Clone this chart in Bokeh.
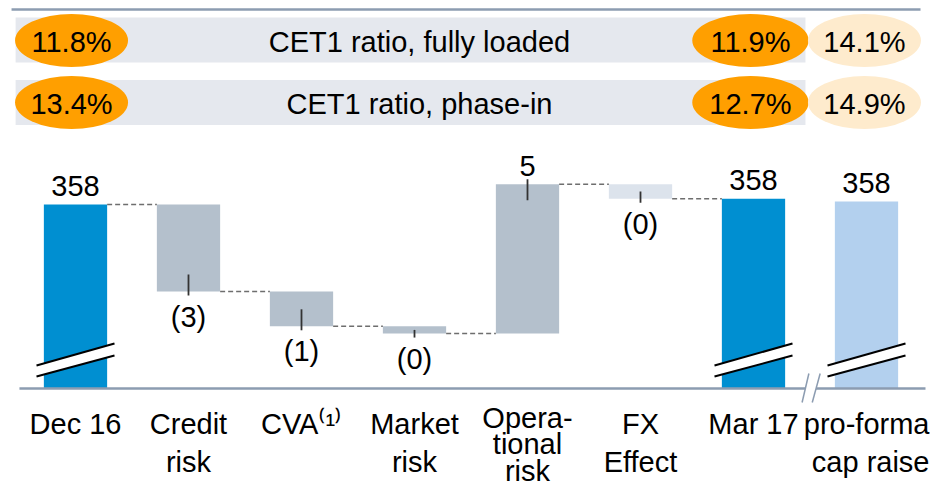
from bokeh.plotting import figure
from bokeh.models import Range1d, ColumnDataSource
from bokeh.core.properties import value
from bokeh.embed import file_html
from bokeh.resources import INLINE

# ---------------- data ----------------
categories = ["Dec 16", "Credit\nrisk", "CVA\u207d\u00b9\u207e", "Market\nrisk",
              "Opera-\ntional\nrisk", "FX\nEffect", "Mar 17", "pro-forma\ncap raise"]
start_value = 358.0                       # Dec 16
deltas = [-3.0, -1.2, -0.25, 5.15, -0.5]  # Credit, CVA, Market, Operational, FX
end_value = 358.2                         # Mar 17
proforma_value = 358.1                    # pro-forma cap raise

ratio_rows = ["CET1 ratio, fully loaded", "CET1 ratio, phase-in"]
ratio_dec16 = ["11.8%", "13.4%"]
ratio_mar17 = ["11.9%", "12.7%"]
ratio_proforma = ["14.1%", "14.9%"]

# ---------------- layout / style ----------------
FONT = value("Liberation Sans")
FS = "29px"
WIDTH, HEIGHT = 930, 487
PX = 29.0                  # pixels per unit of value
REF_V, REF_Y = 358.0, 204  # value placed at pixel row REF_Y
def v_at(pix_y):
    return REF_V - (pix_y - REF_Y) / PX
BASE = v_at(388)           # broken axis baseline value
STEP, X0 = 113.0, 75.0     # category spacing / first centre in pixels

BLUE = "#008FD1"
GREY = "#B4C0CC"
FXC = "#DCE3EC"
LBLUE = "#B3D0EE"
ORANGE = "#FF9F00"
BEIGE = "#FEEBCD"
BAND = "#E5E8EE"
AXC = "#8C9CB1"
W = 0.56

xs0 = -X0 / STEP
p = figure(width=WIDTH, height=HEIGHT,
           x_range=Range1d(xs0, xs0 + WIDTH / STEP),
           y_range=Range1d(v_at(HEIGHT), v_at(0)),
           x_axis_location=None, y_axis_location=None,
           output_backend="svg", toolbar_location=None, min_border=0)
p.extra_y_ranges = {"hdr": Range1d(start=HEIGHT, end=0)}
p.grid.visible = False
p.outline_line_color = None
p.background_fill_color = "white"

idx = list(range(len(categories)))

# ---------------- header ----------------
p.segment(x0=[-0.566], y0=[9], x1=[7.478], y1=[9], y_range_name="hdr",
          line_color=AXC, line_width=2.5)
row_y = [40, 102]
p.hbar(y=[39.5, 102], left=-0.53, right=6.46, height=45, fill_color=BAND,
       line_color=None, y_range_name="hdr")
cx_l, cx_m, cx_r = idx[0] - 0.035, idx[6] - 0.027, idx[7] - 0.018
p.ellipse(x=[cx_l] * 2, y=row_y, width=1.0, height=53, fill_color=ORANGE,
          line_color=None, y_range_name="hdr")
p.ellipse(x=[cx_m] * 2, y=row_y, width=1.03, height=53, fill_color=ORANGE,
          line_color=None, y_range_name="hdr")
p.ellipse(x=[cx_r] * 2, y=row_y, width=1.0, height=53, fill_color=BEIGE,
          line_color=None, y_range_name="hdr")
ty = [y + 1.5 for y in row_y]
for xs, txt in [([cx_l] * 2, ratio_dec16), ([cx_m] * 2, ratio_mar17),
                ([cx_r] * 2, ratio_proforma), ([3.044] * 2, ratio_rows)]:
    p.text(x=xs, y=ty, text=txt, y_range_name="hdr", text_font=FONT,
           text_font_size=FS, text_align="center", text_baseline="middle",
           text_color="black")

# ---------------- waterfall bars ----------------
bottoms, tops, colors = [BASE], [start_value], [BLUE]
levels = [start_value]
running = start_value
for i, d in enumerate(deltas):
    lo, hi = min(running, running + d), max(running, running + d)
    bottoms.append(lo)
    tops.append(hi)
    colors.append(FXC if i == len(deltas) - 1 else GREY)
    running += d
    levels.append(running)
bottoms += [BASE, BASE]
tops += [end_value, proforma_value]
colors += [BLUE, LBLUE]

src = ColumnDataSource(dict(x=idx, bottom=bottoms, top=tops, color=colors))
p.vbar(x="x", bottom="bottom", top="top", width=W, fill_color="color",
       line_color=None, source=src)

# dashed connectors
p.segment(x0=[i + W / 2 for i in range(6)], y0=levels,
          x1=[i + 1 - W / 2 for i in range(6)], y1=levels,
          line_color="#6E6E6E", line_width=1.5, line_dash="5 3")

# break marks on the truncated bars
bx, by_up, by_lo = 0.345, (365, 343), (376, 355)
brk = [0, 6, 7]
p.patches(xs=[[i - bx, i + bx, i + bx, i - bx] for i in brk],
          ys=[[by_up[0], by_up[1], by_lo[1], by_lo[0]] for _ in brk],
          fill_color="white", line_color=None, y_range_name="hdr")
p.multi_line(xs=[[i - bx, i + bx] for i in brk for _ in (0, 1)],
             ys=[list(t) for _ in brk for t in (by_up, by_lo)],
             line_color="black", line_width=2, y_range_name="hdr")

# baseline with axis break
p.segment(x0=[-0.496], y0=[BASE], x1=[7.522], y1=[BASE], line_color=AXC, line_width=2.5)
p.patch(x=[6.43, 6.49, 6.59, 6.52], y=[402, 373, 373, 402], fill_color="white",
        line_color=None, y_range_name="hdr")
p.multi_line(xs=[[6.43, 6.49], [6.52, 6.59]], ys=[[402, 373], [402, 373]],
             line_color=AXC, line_width=1.5, y_range_name="hdr")

# ---------------- value labels ----------------
tot_x = [0, 6, 7]
tot_v = [start_value, end_value, proforma_value]
p.text(x=tot_x, y=tot_v, text=[str(round(v)) for v in tot_v], y_offset=-19,
       text_font=FONT, text_font_size=FS, text_align="center",
       text_baseline="alphabetic", text_color="black")

neg_x, neg_y, neg_t, pos_x, pos_y, pos_t = [], [], [], [], [], []
tx0, ty0, tx1, ty1 = [], [], [], []
for k, d in enumerate(deltas):
    i = k + 1
    lo, hi = bottoms[i], tops[i]
    mid = (lo + hi) / 2
    tx0.append(i)
    tx1.append(i)
    if d < 0:
        neg_x.append(i); neg_y.append(lo); neg_t.append(f"({abs(round(d))})")
        ty0.append(lo - 4 / PX); ty1.append(min(lo + 17 / PX, mid))
    else:
        pos_x.append(i); pos_y.append(hi); pos_t.append(f"{round(d)}")
        ty0.append(hi + 5 / PX); ty1.append(max(hi - 16 / PX, mid))
p.segment(x0=tx0, y0=ty0, x1=tx1, y1=ty1, line_color="#333333", line_width=1.8)
p.text(x=neg_x, y=neg_y, text=neg_t, y_offset=9, text_font=FONT, text_font_size=FS,
       text_align="center", text_baseline="top", text_color="black")
p.text(x=pos_x, y=pos_y, text=pos_t, y_offset=-18, text_font=FONT, text_font_size=FS,
       text_align="center", text_baseline="alphabetic", text_color="black")

# ---------------- category labels ----------------
nlines = [c.count("\n") + 1 for c in categories]
last = len(categories) - 1
grp_a = [i for i in idx if nlines[i] <= 2 and i != last]
grp_b = [i for i in idx if nlines[i] > 2]
p.text(x=grp_a, y=[407] * len(grp_a), text=[categories[i] for i in grp_a],
       y_range_name="hdr", text_font=FONT, text_font_size=FS, text_align="center",
       text_baseline="top", text_line_height=1.2, text_color="black")
p.text(x=grp_b, y=[486.5] * len(grp_b), text=[categories[i] for i in grp_b],
       y_range_name="hdr", text_font=FONT, text_font_size=FS, text_align="center",
       text_baseline="bottom", text_line_height=0.83, text_color="black")
p.text(x=[last], y=[407], text=[categories[last]], x_offset=[929 - (X0 + STEP * last)],
       y_range_name="hdr", text_font=FONT, text_font_size=FS, text_align="right",
       text_baseline="top", text_line_height=1.2, text_color="black")

open("out.html", "w").write(file_html(p, INLINE))
